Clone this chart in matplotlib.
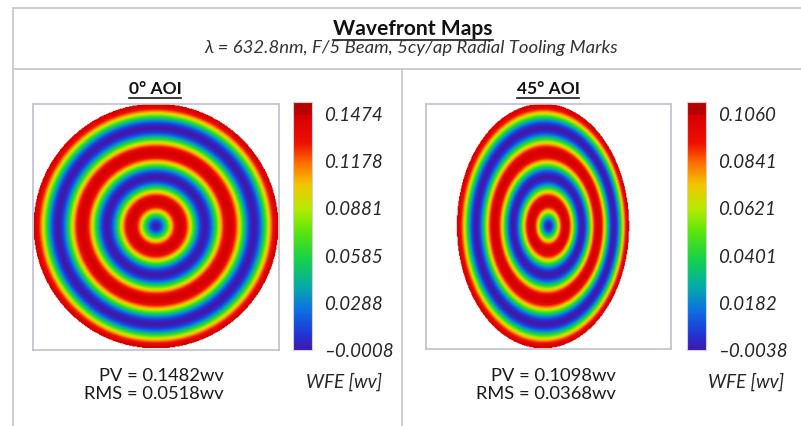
import numpy as np
import matplotlib
matplotlib.use("Agg")
import matplotlib.pyplot as plt
from matplotlib.colors import LinearSegmentedColormap, Normalize
from matplotlib.lines import Line2D

plt.rcParams['font.family'] = ['Lato', 'DejaVu Sans']

# ---- data ----
panel_titles = ["0\u00b0 AOI", "45\u00b0 AOI"]
aoi_deg = [0.0, 45.0]
wfe_min = [-0.0008, -0.00378]
wfe_max = [0.1474, 0.10602]
pv_text = ["0.1482", "0.1098"]
rms_text = ["0.0518", "0.0368"]
cycles_per_aperture = 5
footprint_decenter = [0.0, -0.045]   # ellipse centre offset vs. mark centre (normalised)
n_ticks = 6

W, H = 801, 426
fig = plt.figure(figsize=(W / 100, H / 100), dpi=100)


def box(x0, y0, x1, y1):
    # pixel box (top-left origin) -> figure fraction rect
    return [x0 / W, 1 - y1 / H, (x1 - x0) / W, (y1 - y0) / H]


def fx(x):
    return x / W


def fy(y):
    return 1 - y / H


# rainbow map: purple-blue -> teal -> green -> yellow -> orange -> red
cmap = LinearSegmentedColormap.from_list("wfe", [
    (0.00, (0.25, 0.10, 0.68)),
    (0.07, (0.12, 0.22, 0.85)),
    (0.17, (0.05, 0.45, 0.88)),
    (0.27, (0.02, 0.68, 0.65)),
    (0.38, (0.08, 0.82, 0.30)),
    (0.50, (0.35, 0.90, 0.05)),
    (0.60, (0.72, 0.92, 0.00)),
    (0.70, (0.95, 0.78, 0.00)),
    (0.79, (1.00, 0.45, 0.00)),
    (0.88, (0.94, 0.06, 0.00)),
    (1.00, (0.84, 0.00, 0.00)),
])
cmap.set_bad((1, 1, 1, 0))
cmap.set_over((0.72, 0.0, 0.0))

frame_col = "#c8c8c8"
lw = 1.3
for xs, ys in [((13, W), (8, 8)), ((13, 13), (8, H)), ((13, W), (69, 69)), ((402, 402), (69, H))]:
    fig.add_artist(Line2D([fx(v) for v in xs], [fy(v) for v in ys], color=frame_col, lw=lw))

# header
title = fig.text(fx(413), fy(35), "Wavefront Maps", ha="center", va="baseline",
                 fontsize=15.2, fontweight="bold", color="#111111")
fig.text(fx(411), fy(53), "\u03bb = 632.8nm, F/5 Beam, 5cy/ap Radial Tooling Marks",
         ha="center", va="baseline", fontsize=13.3, fontstyle="italic", color="#333333")

# panel geometry (pixels)
img_boxes = [(33, 103, 279, 350), (426, 103, 671, 350)]
bar_boxes = [(293, 102, 312, 350), (687, 102, 706, 350)]
panel_cx = [155, 548]
stats_cx = [154, 546]
label_cx = [344, 746]

n = 320
g = np.linspace(-1, 1, n)
X, Y = np.meshgrid(g, g)

underlined = [title]
for i in range(2):
    ax = fig.add_axes(box(*img_boxes[i]))
    a = np.cos(np.radians(aoi_deg[i]))
    s = (X - footprint_decenter[i]) / a
    t = Y
    inside = s ** 2 + t ** 2 <= 1.0
    # projective map of the tilted footprint back onto the circular surface
    s0 = -footprint_decenter[i] / a
    den = 1 - s0 * s
    u = (s - s0) / den
    v = t * np.sqrt(1 - s0 ** 2) / den
    rho = np.sqrt(u ** 2 + v ** 2)
    pv = wfe_max[i] - wfe_min[i]
    Z = wfe_min[i] + pv * (1 - np.cos(np.pi * cycles_per_aperture * rho)) / 2
    Z = np.where(inside, Z, np.nan)
    norm = Normalize(vmin=wfe_min[i], vmax=wfe_max[i])
    ax.imshow(Z, cmap=cmap, norm=norm, extent=(-1, 1, -1, 1), origin="lower",
              interpolation="bilinear")
    ax.set_xlim(-1, 1)
    ax.set_ylim(-1, 1)
    ax.set_xticks([])
    ax.set_yticks([])
    for sp in ax.spines.values():
        sp.set_color("#bfc0cc")
        sp.set_linewidth(1.2)

    # colour bar: labelled span sits slightly below the top of the bar
    x0, y0, x1, y1 = bar_boxes[i]
    cax = fig.add_axes(box(*bar_boxes[i]))
    span = wfe_max[i] - wfe_min[i]
    top = wfe_max[i] + span * (114 - y0) / (y1 - 114)
    grad = np.linspace(wfe_min[i], top, 256).reshape(-1, 1)
    cax.imshow(grad, cmap=cmap, norm=norm, aspect="auto", origin="lower",
               extent=(0, 1, wfe_min[i], top))
    cax.set_ylim(wfe_min[i], top)
    cax.set_xticks([])
    ticks = np.linspace(wfe_min[i], wfe_max[i], n_ticks)
    cax.yaxis.tick_right()
    cax.set_yticks(ticks)
    cax.set_yticklabels([("\u2013%.4f" % -tv) if tv < 0 else ("%.4f" % tv) for tv in ticks],
                        fontstyle="italic", fontsize=13.5, color="#262626")
    cax.tick_params(axis="y", length=0, pad=9)
    for sp in cax.spines.values():
        sp.set_color("#d0d0d0")
        sp.set_linewidth(0.8)

    ttl = fig.text(fx(panel_cx[i]), fy(94), panel_titles[i], ha="center", va="baseline",
                   fontsize=12.5, fontweight="bold", color="#111111")
    underlined.append(ttl)

    fig.text(fx(stats_cx[i]), fy(385), "PV = %swv\nRMS = %swv" % (pv_text[i], rms_text[i]),
             ha="center", va="center", multialignment="right", fontsize=13.2,
             color="#1a1a1a", linespacing=1.12)
    fig.text(fx(label_cx[i]), fy(382), "WFE [wv]", ha="center", va="center",
             fontsize=13.6, fontstyle="italic", color="#262626")

# underline the bold headings
fig.canvas.draw()
r = fig.canvas.get_renderer()
for tx in underlined:
    bb = tx.get_window_extent(r)
    yline = bb.y0 - 0.5
    fig.add_artist(Line2D([bb.x0 / W, bb.x1 / W], [yline / H, yline / H],
                          color="#1a1a1a", lw=1.2))

fig.savefig("out.png", dpi=100)
